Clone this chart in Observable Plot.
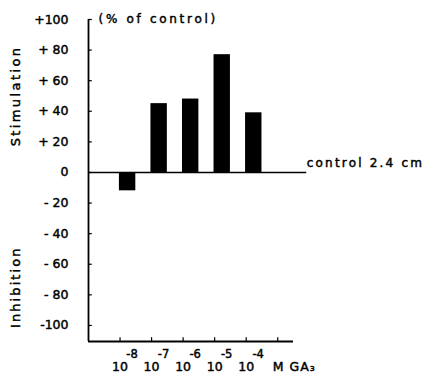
<!DOCTYPE html>
<html>
<head>
<meta charset="utf-8">
<script src="https://cdn.jsdelivr.net/npm/d3@7"></script>
<script src="https://cdn.jsdelivr.net/npm/@observablehq/plot@0.6"></script>
<style>
  html, body { margin: 0; padding: 0; background: #fff; }
  svg { font-family: "DejaVu Sans", sans-serif; }
</style>
</head>
<body>
<div id="chart"></div>
<script>
// Data
const exponents = [-8, -7, -6, -5, -4];
const stimulation = [-12, 45, 48, 77, 39];
const yTicks = [100, 80, 60, 40, 20, 0, -20, -40, -60, -80, -100];
const yTickLabels = ["+100", "+ 80", "+ 60", "+ 40", "+ 20", "0", "- 20", "- 40", "- 60", "- 80", "-100"];
const xTicks = [-8, -7, -6, -5, -4, -3];
const expLabels = ["-8", "-7", "-6", "-5", "-4"];
const unitLabel = "M GA\u2083";
const topNote = "(% of control)";
const controlNote = "control 2.4 cm";
const upperLabel = "Stimulation";
const lowerLabel = "Inhibition";

const xDomain = [-9, -2.5];
const yDomain = [-110.5, 100];

const bars = exponents.map((e, i) => ({exp: e, value: stimulation[i]}));
const yt = yTicks.map((v, i) => ({v, label: yTickLabels[i]}));
const xl = exponents.map((e, i) => ({e, label: expLabels[i]}));

const ink = {fill: "black", stroke: "black", strokeWidth: 0.45};

const chart = Plot.plot({
  width: 427,
  height: 375,
  marginLeft: 88,
  marginRight: 134,
  marginTop: 19,
  marginBottom: 34,
  x: {domain: xDomain, axis: null},
  y: {domain: yDomain, axis: null},
  marks: [
    Plot.rectY(bars, {x1: d => d.exp - 0.02, x2: d => d.exp + 0.5, y1: 0, y2: "value", fill: "black"}),
    Plot.ruleX([xDomain[0]], {y1: yDomain[0], y2: 100, stroke: "black", strokeWidth: 1.8}),
    Plot.ruleY([yDomain[0]], {x1: xDomain[0], x2: xDomain[1], stroke: "black", strokeWidth: 1.8}),
    Plot.ruleY([0], {x1: xDomain[0], x2: -2.08, stroke: "black", strokeWidth: 1.6}),
    Plot.ruleY(yTicks, {x1: xDomain[0], x2: xDomain[0] + 0.12, stroke: "black", strokeWidth: 1.2}),
    Plot.ruleX(xTicks, {y1: yDomain[0], y2: yDomain[0] + 2.5, stroke: "black", strokeWidth: 1.2}),
    Plot.text(yt, {x: xDomain[0], y: "v", text: "label", dx: -20, textAnchor: "end", fontSize: 12.5, ...ink}),
    Plot.text(exponents, {x: d => d, y: yDomain[0], text: d => "10", dy: 25, fontSize: 12.5, ...ink}),
    Plot.text(xl, {x: "e", y: yDomain[0], text: "label", dx: 12, dy: 12.5, fontSize: 11.5, ...ink}),
    Plot.text([-3], {x: d => d, y: yDomain[0], text: d => unitLabel, dx: -5, dy: 25, textAnchor: "start", fontSize: 12.5, ...ink}),
    Plot.text([100], {x: xDomain[0], y: d => d, text: d => topNote, dx: 10, textAnchor: "start", fontSize: 12, ...ink}),
    Plot.text([0], {x: -2.08, y: d => d, text: d => controlNote, dy: -9, textAnchor: "start", fontSize: 12, ...ink}),
    Plot.text([50], {x: xDomain[0], y: d => d, text: d => upperLabel, dx: -73, rotate: -90, fontSize: 13, ...ink}),
    Plot.text([-75], {x: xDomain[0], y: d => d, text: d => lowerLabel, dx: -73, rotate: -90, fontSize: 13, ...ink})
  ]
});

// letter spacing to mimic the wide typeface of the original
const spacing = new Map([
  [topNote, "2.7px"],
  [controlNote, "2.2px"],
  [upperLabel, "2.4px"],
  [lowerLabel, "2.1px"],
  [unitLabel, "1px"]
]);
d3.select(chart).selectAll("text").each(function() {
  const t = this.textContent;
  if (spacing.has(t)) this.style.letterSpacing = spacing.get(t);
});
document.getElementById("chart").appendChild(chart);
</script>
</body>
</html>
